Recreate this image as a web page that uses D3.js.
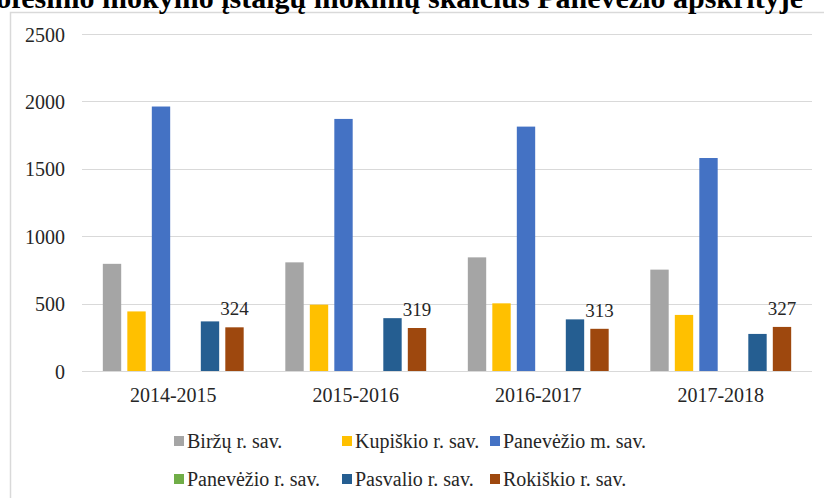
<!DOCTYPE html>
<html>
<head>
<meta charset="utf-8">
<script src="https://cdn.jsdelivr.net/npm/d3@7"></script>
<style>
  html, body { margin: 0; padding: 0; background: #fff; }
  svg { display: block; }
</style>
</head>
<body>
<svg id="chart" width="824" height="498"></svg>
<script>
const title = "Profesinio mokymo įstaigų mokinių skaičius Panevėžio apskrityje";
const categories = ["2014-2015", "2015-2016", "2016-2017", "2017-2018"];
const seriesNames = ["Biržų r. sav.", "Kupiškio r. sav.", "Panevėžio m. sav.", "Panevėžio r. sav.", "Pasvalio r. sav.", "Rokiškio r. sav."];
const birzai = [795, 806, 843, 752];
const kupiskis = [442, 492, 502, 416];
const panevezysM = [1962, 1870, 1813, 1580];
const panevezysR = [0, 0, 0, 0];
const pasvalys = [368, 392, 383, 275];
const rokiskis = [324, 319, 313, 327];
const yTicks = [0, 500, 1000, 1500, 2000, 2500];
const colors = ["#a5a5a5", "#ffc000", "#4472c4", "#70ad47", "#255e91", "#9e480e"];
const labelledSeries = 5;

const seriesValues = [birzai, kupiskis, panevezysM, panevezysR, pasvalys, rokiskis];

const svg = d3.select("#chart");
const font = "'Liberation Serif', 'Times New Roman', serif";
const textColor = "#262626";

// frame
svg.append("rect")
  .attr("x", 10.5).attr("y", 12.5)
  .attr("width", 900).attr("height", 600)
  .attr("fill", "none").attr("stroke", "#d9d9d9").attr("stroke-width", 1.5);

// title (clipped at top as in reference)
svg.append("text")
  .attr("x", 803).attr("y", 8)
  .attr("text-anchor", "end")
  .attr("font-family", font)
  .attr("font-weight", "bold")
  .attr("font-size", 30)
  .attr("fill", "#000")
  .text(title);

const plotLeft = 82, plotRight = 812, plotTop = 34, plotBottom = 371;

const y = d3.scaleLinear().domain([0, 2500]).range([plotBottom, plotTop]);
const x0 = d3.scaleBand().domain(categories).range([plotLeft, plotRight]).padding(0);
const x1 = d3.scaleBand().domain(d3.range(seriesNames.length))
  .range([0, x0.bandwidth()]).paddingInner(0.25).paddingOuter(0.85);

// gridlines
svg.append("g").selectAll("line").data(yTicks).join("line")
  .attr("x1", plotLeft).attr("x2", plotRight)
  .attr("y1", d => Math.round(y(d)) + 0.5).attr("y2", d => Math.round(y(d)) + 0.5)
  .attr("stroke", "#d9d9d9").attr("stroke-width", 1.2);

// y axis labels
const yAxis = d3.axisLeft(y).tickValues(yTicks).tickFormat(d3.format("d")).tickSize(0).tickPadding(0);
const yg = svg.append("g").attr("transform", `translate(65,0)`).call(yAxis);
yg.select(".domain").remove();
yg.selectAll("text")
  .attr("font-family", font).attr("font-size", 20).attr("fill", textColor)
  .attr("dy", "0.35em");

// x axis labels
const xAxis = d3.axisBottom(x0).tickSize(0).tickPadding(0);
const xg = svg.append("g").attr("transform", `translate(0,${plotBottom})`).call(xAxis);
xg.select(".domain").remove();
xg.selectAll("text")
  .attr("font-family", font).attr("font-size", 20).attr("fill", textColor)
  .attr("y", 31).attr("dy", 0);

// bars
const groups = svg.append("g").selectAll("g").data(categories).join("g")
  .attr("transform", d => `translate(${x0(d)},0)`);

groups.each(function(cat, ci) {
  const g = d3.select(this);
  seriesValues.forEach((vals, si) => {
    const v = vals[ci];
    if (v > 0) {
      g.append("rect")
        .attr("x", x1(si)).attr("width", x1.bandwidth())
        .attr("y", y(v)).attr("height", y(0) - y(v))
        .attr("fill", colors[si]);
    }
    if (si === labelledSeries) {
      g.append("text")
        .attr("x", x1(si) + x1.bandwidth() / 2)
        .attr("y", y(v) - 12)
        .attr("text-anchor", "middle")
        .attr("font-family", font).attr("font-size", 19).attr("fill", textColor)
        .text(v);
    }
  });
});

// legend
const legendCols = [174, 342, 490];
const legendRows = [441, 479];
seriesNames.forEach((name, i) => {
  const lx = legendCols[i % 3];
  const ly = legendRows[Math.floor(i / 3)];
  svg.append("rect")
    .attr("x", lx).attr("y", ly - 5).attr("width", 10).attr("height", 10)
    .attr("fill", colors[i]);
  svg.append("text")
    .attr("x", lx + 13).attr("y", ly).attr("dy", "0.35em")
    .attr("font-family", font).attr("font-size", 20).attr("fill", textColor)
    .text(name);
});
</script>
</body>
</html>
